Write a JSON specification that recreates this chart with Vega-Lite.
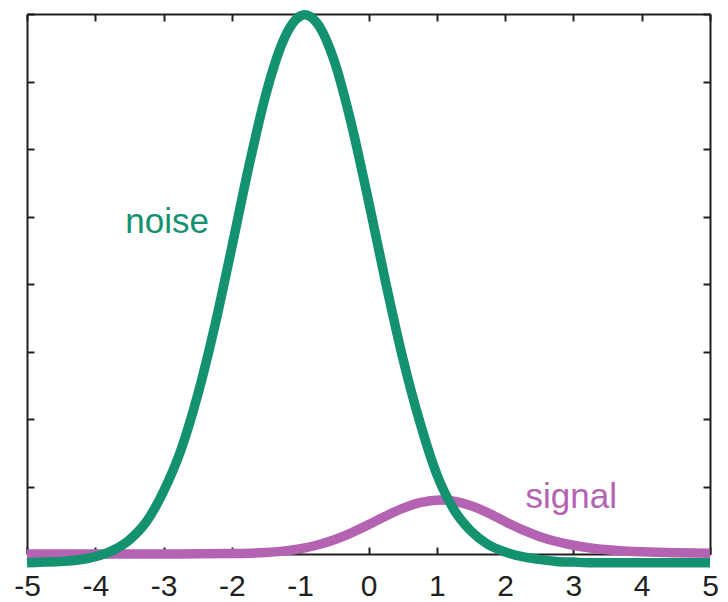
{
  "$schema": "https://vega.github.io/schema/vega-lite/v6.json",
  "width": 683,
  "height": 540,
  "autosize": {"type": "none"},
  "padding": {"left": 27, "top": 14, "right": 18, "bottom": 48},
  "background": "white",
  "config": {
    "view": {"stroke": null},
    "axis": {
      "domainColor": "#231f20",
      "domainWidth": 2,
      "tickColor": "#231f20",
      "tickWidth": 2,
      "grid": false,
      "labelFont": "Liberation Sans",
      "labelFontSize": 30,
      "labelColor": "#231f20",
      "title": null
    }
  },
  "datasets": {
    "noise": [
      {"x": -5, "y": -0.13}, {"x": -4.75, "y": -0.12}, {"x": -4.5, "y": -0.11}, {"x": -4.25, "y": -0.09},
      {"x": -4, "y": -0.04}, {"x": -3.75, "y": 0.05}, {"x": -3.5, "y": 0.21}, {"x": -3.25, "y": 0.48},
      {"x": -3, "y": 0.93}, {"x": -2.75, "y": 1.53}, {"x": -2.5, "y": 2.36}, {"x": -2.25, "y": 3.38},
      {"x": -2, "y": 4.55}, {"x": -1.75, "y": 5.75}, {"x": -1.5, "y": 6.82}, {"x": -1.25, "y": 7.6},
      {"x": -1, "y": 7.97}, {"x": -0.93, "y": 7.99}, {"x": -0.75, "y": 7.86}, {"x": -0.5, "y": 7.3},
      {"x": -0.25, "y": 6.37}, {"x": 0, "y": 5.23}, {"x": 0.25, "y": 4.03}, {"x": 0.5, "y": 2.91},
      {"x": 0.75, "y": 1.96}, {"x": 1, "y": 1.18}, {"x": 1.25, "y": 0.66}, {"x": 1.5, "y": 0.34},
      {"x": 1.75, "y": 0.14}, {"x": 2, "y": 0.03}, {"x": 2.25, "y": -0.04}, {"x": 2.5, "y": -0.08},
      {"x": 2.75, "y": -0.11}, {"x": 3, "y": -0.12}, {"x": 3.25, "y": -0.13}, {"x": 3.5, "y": -0.13},
      {"x": 4, "y": -0.13}, {"x": 4.5, "y": -0.13}, {"x": 5, "y": -0.13}
    ],
    "signal": [
      {"x": -5, "y": 0}, {"x": -4, "y": 0}, {"x": -3, "y": 0.001}, {"x": -2.5, "y": 0.003},
      {"x": -2, "y": 0.007}, {"x": -1.5, "y": 0.022}, {"x": -1.25, "y": 0.043}, {"x": -1, "y": 0.078},
      {"x": -0.75, "y": 0.133}, {"x": -0.5, "y": 0.211}, {"x": -0.25, "y": 0.314}, {"x": 0, "y": 0.435},
      {"x": 0.25, "y": 0.561}, {"x": 0.5, "y": 0.676}, {"x": 0.75, "y": 0.761}, {"x": 1.05, "y": 0.8},
      {"x": 1.25, "y": 0.782}, {"x": 1.5, "y": 0.715}, {"x": 1.75, "y": 0.61}, {"x": 2, "y": 0.48},
      {"x": 2.25, "y": 0.36}, {"x": 2.5, "y": 0.26}, {"x": 2.75, "y": 0.185}, {"x": 3, "y": 0.13},
      {"x": 3.25, "y": 0.09}, {"x": 3.5, "y": 0.063}, {"x": 3.75, "y": 0.045}, {"x": 4, "y": 0.032},
      {"x": 4.5, "y": 0.017}, {"x": 5, "y": 0.01}
    ],
    "labels": [
      {"x": -3.56, "y": 4.76, "text": "noise", "series": "noise"},
      {"x": 2.3, "y": 0.68, "text": "signal", "series": "signal"}
    ]
  },
  "resolve": {"axis": {"x": "independent", "y": "independent"}},
  "layer": [
    {
      "data": {"name": "signal"},
      "mark": {"type": "line", "strokeWidth": 9.5, "interpolate": "monotone", "color": "#b463b3"},
      "encoding": {
        "x": {"field": "x", "type": "quantitative", "scale": {"domain": [-5, 5], "nice": false},
              "axis": {"orient": "bottom", "values": [-5,-4,-3,-2,-1,0,1,2,3,4,5], "tickSize": -7, "labelPadding": 24, "labelExpr": "'' + datum.value", "labelFlush": false}},
        "y": {"field": "y", "type": "quantitative", "scale": {"domain": [0, 8], "nice": false, "zero": false},
              "axis": {"orient": "left", "values": [0,1,2,3,4,5,6,7,8], "tickSize": -7, "labels": false}}
      }
    },
    {
      "data": {"name": "noise"},
      "mark": {"type": "line", "strokeWidth": 9.5, "interpolate": "monotone", "color": "#14916f"},
      "encoding": {
        "x": {"field": "x", "type": "quantitative",
              "axis": {"orient": "top", "values": [-5,-4,-3,-2,-1,0,1,2,3,4,5], "tickSize": -7, "labels": false}},
        "y": {"field": "y", "type": "quantitative",
              "axis": {"orient": "right", "values": [0,1,2,3,4,5,6,7,8], "tickSize": -7, "labels": false}}
      }
    },
    {
      "data": {"name": "labels"},
      "mark": {"type": "text", "align": "left", "baseline": "alphabetic", "font": "Liberation Sans", "fontSize": 35},
      "encoding": {
        "x": {"field": "x", "type": "quantitative", "axis": null},
        "y": {"field": "y", "type": "quantitative", "axis": null},
        "text": {"field": "text"},
        "color": {"field": "series", "type": "nominal", "scale": {"domain": ["noise", "signal"], "range": ["#14916f", "#b463b3"]}, "legend": null}
      }
    }
  ]
}
